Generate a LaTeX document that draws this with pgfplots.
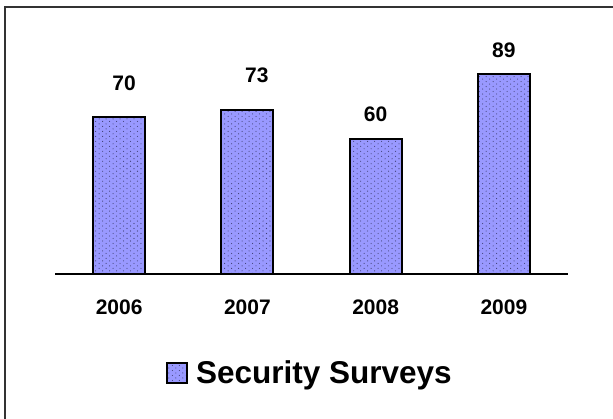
\documentclass[border=0pt]{standalone}
\usepackage{pgfplots}
\pgfplotsset{compat=1.18}
\usepackage{pgfplotstable}
\usepackage{fontspec}
\setmainfont{Liberation Sans}
\usetikzlibrary{patterns.meta}
\definecolor{barfill}{RGB}{153,153,255}
\definecolor{dotcol}{RGB}{60,60,110}
\tikzdeclarepattern{
  name=sparsedots,
  type=uncolored,
  bottom left={(-.1pt,-.1pt)},
  top right={(7.1pt,5.1pt)},
  tile size={(7pt,5pt)},
  code={
    \fill (1.5pt,1.2pt) circle (0.55pt);
    \fill (5pt,3.7pt) circle (0.55pt);
  }
}
\pgfplotstableread{
x y dx dy
0 70 5 33
1 73 9.5 34.7
2 60 0 24.5
3 89 0 23.3
}\datatable
\begin{document}
\begin{tikzpicture}
\useasboundingbox (0,0) rectangle (613bp,-419bp);
\draw[line width=1.8bp, black!80] (4.6bp,-419bp) -- (4.6bp,-7bp) -- (613bp,-7bp);
\begin{axis}[
  at={(55bp,-274bp)}, anchor=south west,
  scale only axis, width=513bp, height=225bp,
  xmin=-0.5, xmax=3.5, ymin=0, ymax=100,
  axis x line=bottom, axis y line=none,
  x axis line style={-, line width=1.8bp, black},
  ybar, bar width=52bp,
  xtick={0,1,2,3}, xticklabels={2006,2007,2008,2009},
  ytick=\empty,
  major tick length=0pt,
  clip=false,
  /pgf/number format/assume math mode=true,
  xticklabel style={font=\fontsize{21bp}{24bp}\selectfont\bfseries, anchor=center, yshift=-33.5bp},
  legend style={at={(0.497,-0.44)}, anchor=center, draw=none, fill=none,
    font=\fontsize{31.5bp}{35bp}\selectfont\bfseries, column sep=6bp, inner sep=0pt},
  legend image code/.code={\draw[#1, line width=1.8bp] (0bp,-10bp) rectangle (20bp,10bp);},
]
\addplot[draw=black, line width=2bp, fill=barfill,
  postaction={pattern=sparsedots, pattern color=dotcol},
  visualization depends on={\thisrow{dx} \as \dx},
  visualization depends on={\thisrow{dy} \as \dy},
  nodes near coords,
  nodes near coords style={anchor=center, xshift=\dx*1bp, yshift=\dy*1bp, font=\fontsize{21bp}{24bp}\selectfont\bfseries, black},
  ] table[x=x, y=y] {\datatable};
\addlegendentry{Security Surveys}
\end{axis}
\end{tikzpicture}
\end{document}
